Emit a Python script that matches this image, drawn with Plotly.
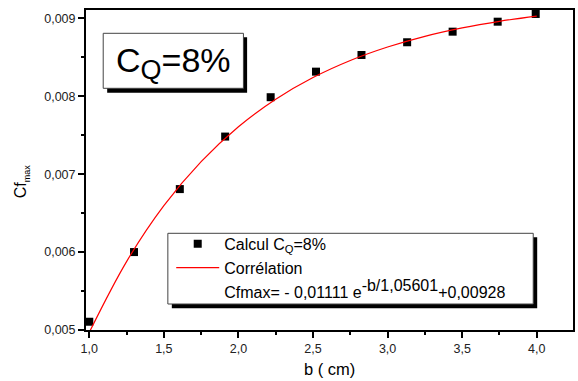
import plotly.graph_objects as go

# measured data points
b_pts = [1.00, 1.30, 1.607, 1.911, 2.216, 2.52, 2.825, 3.131, 3.436, 3.738, 3.993]
cf_pts = [0.005106, 0.006000, 0.006808, 0.007482, 0.007987, 0.008315, 0.008529,
          0.008692, 0.008828, 0.008956, 0.009055]

# correlation curve
b_fit = [1.00, 1.25, 1.50, 1.75, 2.00, 2.25, 2.50, 2.75, 3.00, 3.25, 3.50, 3.75, 4.00]
cf_fit = [0.00497, 0.005878, 0.006596, 0.007161, 0.007608, 0.007961, 0.008239,
          0.008458, 0.008631, 0.008768, 0.008876, 0.008961, 0.009028]

x_ticks = [1.0, 1.5, 2.0, 2.5, 3.0, 3.5, 4.0]
y_ticks = [0.005, 0.006, 0.007, 0.008, 0.009]

FONT = "Arial, Liberation Sans, sans-serif"

fig = go.Figure()
fig.add_trace(go.Scatter(x=b_pts, y=cf_pts, mode="markers",
                         marker=dict(symbol="square", size=8, color="black"),
                         name="Calcul C<sub>Q</sub>=8%", cliponaxis=False, legendrank=1))
fig.add_trace(go.Scatter(x=b_fit, y=cf_fit, mode="lines", line=dict(color="#ff0000", width=1.2, shape="spline"),
                         name="Corrélation", cliponaxis=False, legendrank=2))
fig.add_trace(go.Scatter(x=[None], y=[None], mode="lines", line=dict(color="rgba(0,0,0,0)", width=0),
                         name="Cfmax= - 0,01111 e<sup><span style='font-size:16px'>-b/1,05601</span></sup>+0,00928",
                         legendrank=3))

axis_common = dict(showline=True, linecolor="black", linewidth=2, mirror=True, ticks="outside",
                   ticklen=6, tickwidth=2, tickcolor="black", showgrid=False, zeroline=False,
                   tickfont=dict(family=FONT, size=12.5, color="#222"))

fig.update_layout(
    width=578, height=381,
    margin=dict(l=86, r=3, t=10, b=51),
    paper_bgcolor="white", plot_bgcolor="white",
    separators=", ",
    xaxis=dict(range=[0.978, 4.243], tickvals=x_ticks, tickformat=".1f",
               minor=dict(ticks="outside", ticklen=3, tickwidth=2, tickcolor="black", dtick=0.25, tick0=1.0),
               **axis_common),
    yaxis=dict(range=[0.005, 0.009106], tickvals=y_ticks, tickformat=".3f",
               minor=dict(ticks="outside", ticklen=3, tickwidth=2, tickcolor="black", dtick=0.0005, tick0=0.005),
               **axis_common),
    showlegend=True,
    legend=dict(x=0.175, y=0.322, xanchor="left", yanchor="top", bgcolor="rgba(0,0,0,0)",
                borderwidth=0, font=dict(family=FONT, size=16, color="black"),
                itemwidth=43, tracegroupgap=0),
)

# legend box with shadow
fig.add_shape(type="rect", xref="paper", yref="paper", layer="below",
              x0=(172.3 - 86) / 489.7, x1=(539.7 - 86) / 489.7,
              y0=(330 - 308.3) / 320, y1=(330 - 237.3) / 320,
              fillcolor="black", line=dict(width=0))
fig.add_shape(type="rect", xref="paper", yref="paper", layer="below",
              x0=(168.3 - 86) / 489.7, x1=(535.7 - 86) / 489.7,
              y0=(330 - 304) / 320, y1=(330 - 233.3) / 320,
              fillcolor="white", line=dict(color="#444", width=1))

# title box with shadow
fig.add_shape(type="rect", xref="paper", yref="paper",
              x0=(107.3 - 86) / 489.7, x1=(248 - 86) / 489.7,
              y0=(330 - 92.7) / 320, y1=(330 - 37.3) / 320,
              fillcolor="black", line=dict(width=0))
fig.add_shape(type="rect", xref="paper", yref="paper",
              x0=(103.3 - 86) / 489.7, x1=(244.3 - 86) / 489.7,
              y0=(330 - 88.3) / 320, y1=(330 - 33.3) / 320,
              fillcolor="white", line=dict(color="#444", width=1))
fig.add_annotation(xref="paper", yref="paper", x=(174 - 86) / 489.7, y=(330 - 63) / 320,
                   text="C<sub><span style='font-size:27px'>Q</span></sub>=8%", showarrow=False,
                   xanchor="center", yanchor="middle",
                   font=dict(family=FONT, size=34, color="black"))

# axis titles
fig.add_annotation(xref="paper", yref="paper", x=0.5, y=(330 - 369) / 320,
                   text="b ( cm)", showarrow=False, xanchor="center", yanchor="middle",
                   font=dict(family=FONT, size=16.5, color="black"))
fig.add_annotation(xref="paper", yref="paper", x=(21 - 86) / 489.7, y=(330 - 181) / 320,
                   text="Cf<sub><span style='font-size:9px'>max</span></sub>", showarrow=False,
                   textangle=-90, xanchor="center", yanchor="middle",
                   font=dict(family=FONT, size=16, color="black"))

fig.write_html("out.html")
